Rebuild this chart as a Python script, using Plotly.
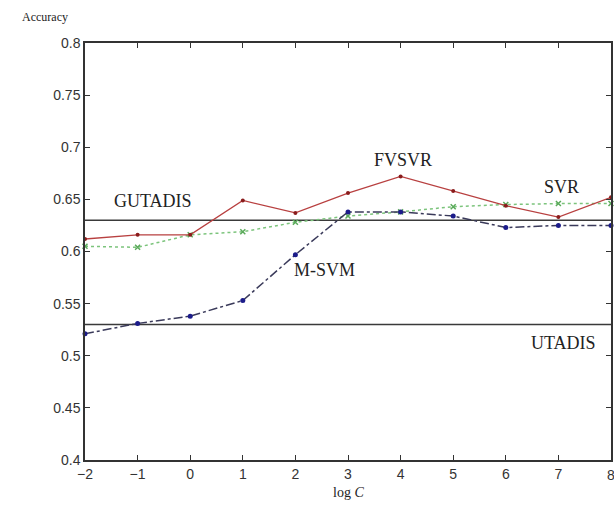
import plotly.graph_objects as go

log_c = [-2, -1, 0, 1, 2, 3, 4, 5, 6, 7, 8]
fvsvr = [0.612, 0.616, 0.616, 0.649, 0.637, 0.656, 0.672, 0.658, 0.644, 0.633, 0.652]
svr = [0.605, 0.604, 0.616, 0.619, 0.628, 0.634, 0.638, 0.643, 0.645, 0.646, 0.646]
msvm = [0.521, 0.531, 0.538, 0.553, 0.597, 0.638, 0.638, 0.634, 0.623, 0.625, 0.625]
gutadis_level = 0.63
utadis_level = 0.53
x_ticks = [-2, -1, 0, 1, 2, 3, 4, 5, 6, 7, 8]
y_ticks = [0.4, 0.45, 0.5, 0.55, 0.6, 0.65, 0.7, 0.75, 0.8]
y_tick_text = ["0.4", "0.45", "0.5", "0.55", "0.6", "0.65", "0.7", "0.75", "0.8"]

fig = go.Figure()

xr = [x_ticks[0], x_ticks[-1]]
fig.add_trace(go.Scatter(x=xr, y=[gutadis_level] * 2, mode="lines",
                         line=dict(color="#3a3a3a", width=1.5), showlegend=False))
fig.add_trace(go.Scatter(x=xr, y=[utadis_level] * 2, mode="lines",
                         line=dict(color="#3a3a3a", width=1.5), showlegend=False))

fig.add_trace(go.Scatter(x=log_c, y=svr, mode="lines+markers",
                         line=dict(color="#7cc47c", width=1.5, dash="dot"),
                         marker=dict(symbol="x-thin", size=5, color="#5aaa5a",
                                     line=dict(color="#5aaa5a", width=1.5)),
                         showlegend=False, cliponaxis=False))
fig.add_trace(go.Scatter(x=log_c, y=msvm, mode="lines+markers",
                         line=dict(color="#3a3a5a", width=1.5, dash="dashdot"),
                         marker=dict(symbol="circle", size=5, color="#1c1c8a"),
                         showlegend=False, cliponaxis=False))
fig.add_trace(go.Scatter(x=log_c, y=fvsvr, mode="lines+markers",
                         line=dict(color="#b84040", width=1.3),
                         marker=dict(symbol="circle", size=4, color="#8a1c1c"),
                         showlegend=False, cliponaxis=False))

serif = "Liberation Serif"
ann = [
    dict(text="GUTADIS", x=-0.7, y=0.648),
    dict(text="FVSVR", x=4.05, y=0.688),
    dict(text="SVR", x=7.05, y=0.6615),
    dict(text="M-SVM", x=2.55, y=0.5825),
    dict(text="UTADIS", x=7.1, y=0.5125),
]
for a in ann:
    fig.add_annotation(text=a["text"], x=a["x"], y=a["y"], xref="x", yref="y",
                       showarrow=False, font=dict(family=serif, size=18, color="#222"))

fig.add_annotation(text="Accuracy", x=-0.076, y=1.062, xref="paper", yref="paper",
                   xanchor="center", yanchor="middle",
                   showarrow=False, font=dict(family=serif, size=12, color="#222"))
fig.add_annotation(text="log <i>C</i>", x=3, y=-0.055, xref="x", yref="paper",
                   yanchor="top", showarrow=False, font=dict(family=serif, size=14, color="#222"))
# the last tick label sits at the page edge
fig.add_annotation(text=str(x_ticks[-1]), x=x_ticks[-1], y=-0.012, xref="x", yref="paper",
                   yanchor="top", showarrow=False,
                   font=dict(family="Liberation Sans", size=14, color="#333"))

fig.update_layout(
    width=614, height=511,
    margin=dict(l=85, r=1, t=43, b=51),
    plot_bgcolor="white", paper_bgcolor="white",
    xaxis=dict(range=xr, tickvals=x_ticks[:-1], ticks="inside", ticklen=5, tickcolor="#333",
               showline=True, linecolor="#333", linewidth=1.5, mirror="ticks",
               showgrid=False, zeroline=False,
               tickfont=dict(family="Liberation Sans", size=14, color="#333")),
    yaxis=dict(range=[0.4, 0.8], tickvals=y_ticks, ticktext=y_tick_text, ticks="inside",
               ticklen=5, tickcolor="#333",
               showline=True, linecolor="#333", linewidth=1.5, mirror="ticks",
               showgrid=False, zeroline=False,
               tickfont=dict(family="Liberation Sans", size=14, color="#333")),
)

fig.write_html("out.html")
